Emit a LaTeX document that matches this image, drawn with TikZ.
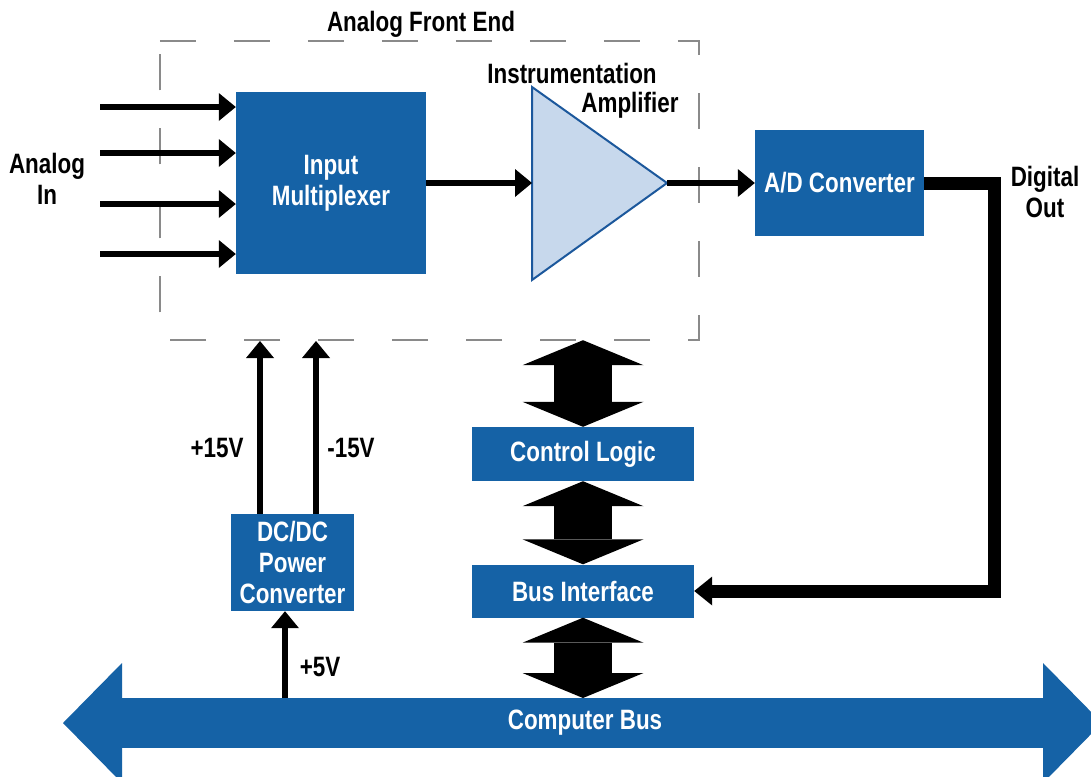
\documentclass[tikz,border=0pt]{standalone}
\usepackage{fontspec}
\setmainfont{Liberation Sans}[FakeStretch=0.8]
\usetikzlibrary{arrows.meta,fit}
\definecolor{boxblue}{RGB}{21,98,166}
\definecolor{ampfill}{RGB}{199,216,236}
\definecolor{ampline}{RGB}{28,88,156}
\definecolor{framegray}{RGB}{138,138,138}
\tikzset{
  lbl/.style={font={\bfseries\fontsize{28}{31}\selectfont},align=center,inner sep=0pt},
  blk/.style={lbl,fill=boxblue,text=white},
  sig/.style={line width=6.5pt,>={Triangle[length=17pt,width=28pt,line width=0pt]},->},
  dout/.style={line width=13pt,>={Triangle[length=18pt,width=29pt,line width=0pt]},->},
  dbl/.style={line width=58pt,>={Triangle[length=25pt,width=121pt,line width=0pt]},<->},
  bus/.style={boxblue,line width=50pt,>={Triangle[length=59pt,width=120pt,line width=0pt]},<->},
  frame/.style={draw=framegray,line width=1.5pt,dash pattern=on 36pt off 38pt},
}
\begin{document}
\begin{tikzpicture}[x=1pt,y=-1pt]
    \fill[white] (0,0) rectangle (1091,776);
    \useasboundingbox (0,0) rectangle (1091,776);
    % analog front end
    \node[fit={(160,41) (699,340)},inner sep=0pt] (afe) {};
    \draw[frame] (afe.north west) -- (afe.north east) -- (afe.south east) -- (afe.south west) -- cycle;
    \node[lbl,anchor=base] (afetitle) at (421,32) {Analog Front End};
    \node[blk,minimum width=190pt,minimum height=182pt] (mux) at (331,183) {Input\\Multiplexer};
    \draw[ampline,fill=ampfill,line width=2pt,line join=miter] (532,87) -- (667,183) coordinate (ampout) -- (532,280) -- cycle;
    \coordinate (ampin) at (532,183);
    \node[lbl,anchor=base] (amplbl1) at (572,83) {Instrumentation};
    \node[lbl,anchor=base] (amplbl2) at (630,112) {Amplifier};
    \node[lbl] (ain) at (47,179) {Analog\\In};
    \foreach \y [count=\i] in {107,153,204,254} {
        \coordinate (in\i) at (100,\y);
        \draw[sig] (in\i) -- (in\i -| mux.west);
    }
    \draw[sig] (mux.east) -- (ampin);
    % conversion and digital side
    \node[blk,minimum width=169pt,minimum height=106pt] (adc) at (839.5,183) {A/D Converter};
    \draw[sig] (ampout) -- (adc.west);
    \node[lbl] (dout) at (1045,192) {Digital\\Out};
    \node[blk,minimum width=222pt,minimum height=54pt] (ctl) at (583,454) {Control Logic};
    \node[blk,minimum width=222pt,minimum height=53pt] (busif) at (583,591) {Bus Interface};
    \draw[dout] (adc.east) -- ++(70,0) coordinate (dcorner) |- (busif.east);
    % power supply
    \node[blk,minimum width=123pt,minimum height=97pt] (dcdc) at (292.5,562.5) {DC/DC\\Power\\Converter};
    \coordinate (pos15) at (260,341);
    \coordinate (neg15) at (316,341);
    \draw[sig] (pos15 |- dcdc.north) -- (pos15);
    \draw[sig] (neg15 |- dcdc.north) -- (neg15);
    \node[lbl,anchor=base] (lpos15) at (217,457) {+15V};
    \node[lbl,anchor=base] (lneg15) at (351,457) {-15V};
    % computer bus
    \coordinate (busL) at (63,723);
    \coordinate (busR) at (1102,723);
    \coordinate (busedge) at (583,698);
    \draw[bus] (busL) -- (busR);
    \node[lbl,text=white] (bustxt) at (585,723) {Computer Bus};
    \coordinate (pos5) at (285,698);
    \draw[sig] (pos5) -- (pos5 |- dcdc.south);
    \node[lbl,anchor=base] (lpos5) at (320,676) {+5V};
    \draw[dbl] (ctl.north |- afe.south) -- (ctl.north);
    \draw[dbl] (ctl.south) -- (busif.north);
    \draw[dbl] (busif.south) -- (busedge);
\end{tikzpicture}
\end{document}
